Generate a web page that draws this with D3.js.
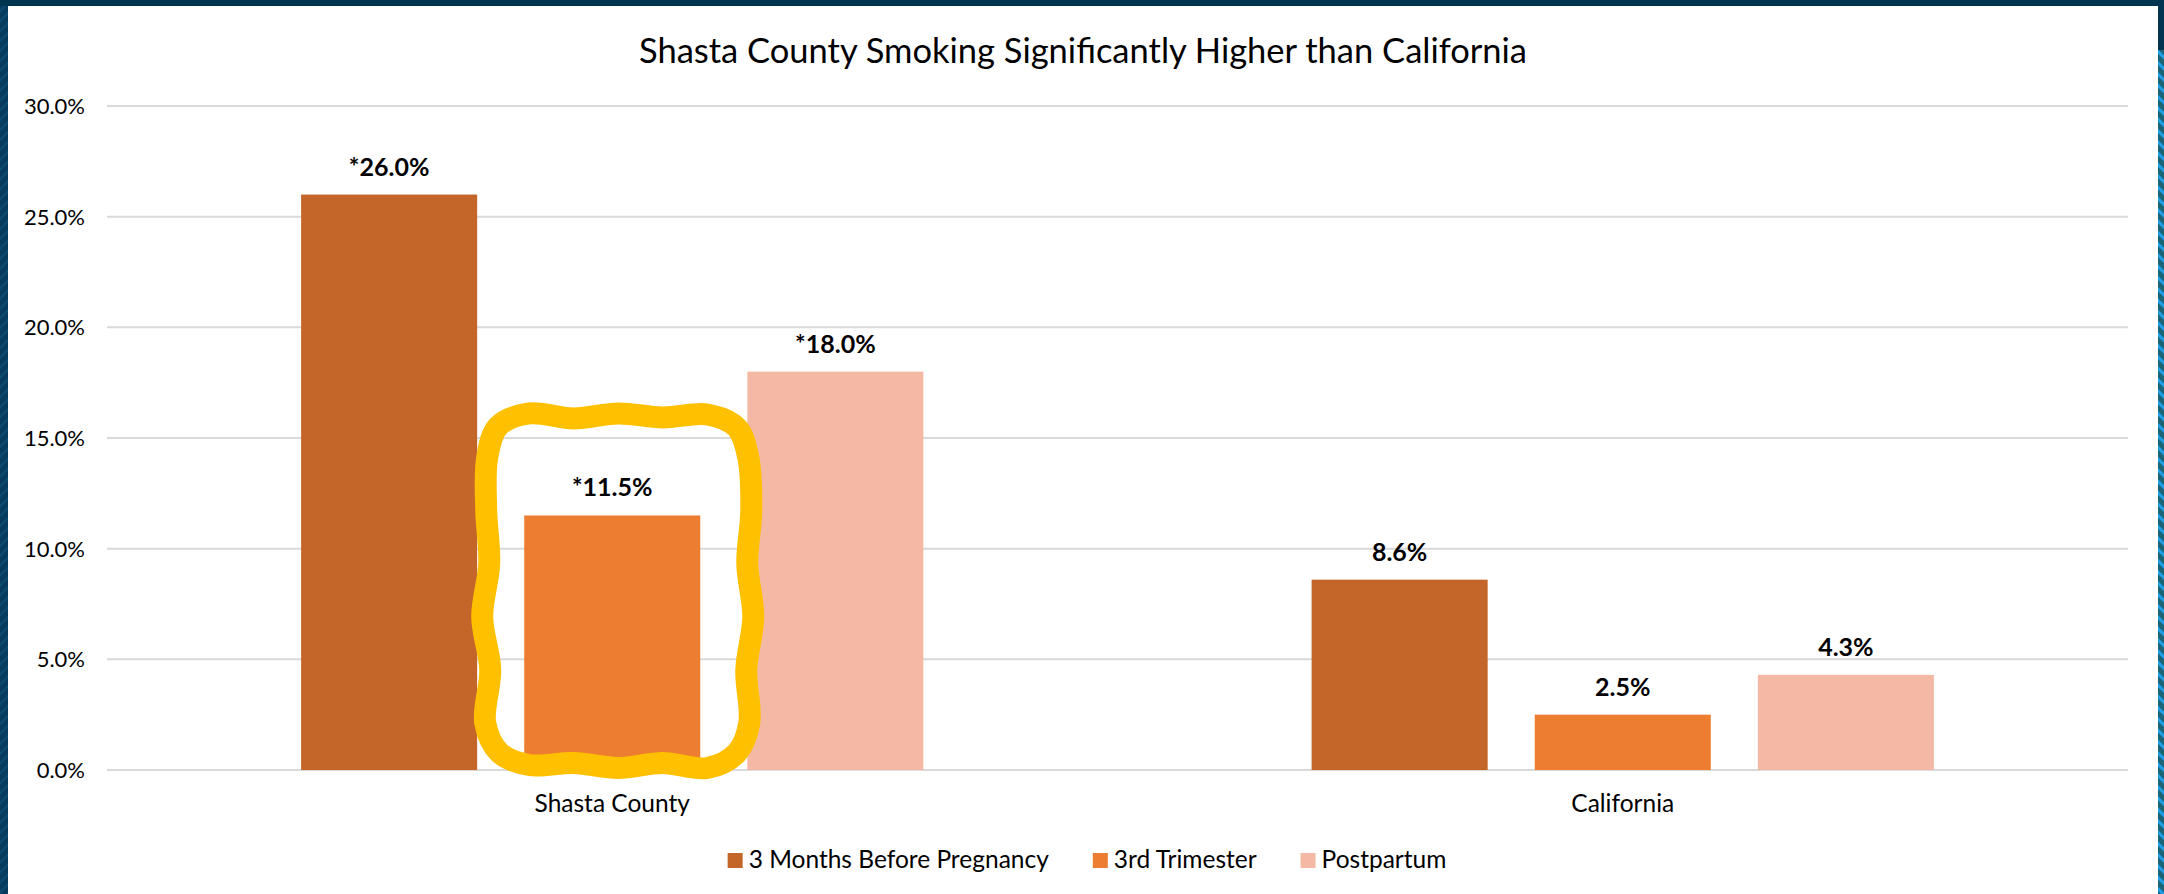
<!DOCTYPE html>
<html lang="en">
<head>
  <meta charset="UTF-8">
  <title>Shasta County Smoking</title>
  <script src="https://d3js.org/d3.v7.min.js"></script>
  <style>
    html, body { margin: 0; padding: 0; background: #fff; }
    svg { display: block; font-family: Lato, "Open Sans", sans-serif; }
    .grid line { stroke: #d9d9d9; stroke-width: 2px; }
    .tick-label { font-size: 22px; fill: #000; }
    .cat-label { font-size: 24.5px; fill: #000; }
    .value-label { font-size: 25px; font-weight: bold; fill: #000; }
    .legend-label { font-size: 24.5px; fill: #000; }
    .title { font-size: 34.5px; fill: #000; }
  </style>
</head>
<body>
  <div id="body"></div>
  <script>
    // Data
    const categories = ["Shasta County", "California"];
    const series = ["3 Months Before Pregnancy", "3rd Trimester", "Postpartum"];
    const shastaValues = [26.0, 11.5, 18.0];
    const californiaValues = [8.6, 2.5, 4.3];
    const significant = [true, false]; // "*" marks, per category
    const yTicks = [0, 5, 10, 15, 20, 25, 30];
    const colors = ["#c4652a", "#ed7d31", "#f4b9a4"];
    const titleText = "Shasta County Smoking Significantly Higher than California";

    const width = 2164, height = 894;
    const margin = { top: 106, right: 36, bottom: 124, left: 107 };

    const rows = categories.map((c, i) => ({
      category: c,
      star: significant[i],
      values: (i === 0 ? shastaValues : californiaValues).map((v, j) => ({ key: series[j], value: v }))
    }));

    const svg = d3.select("#body")
                  .append("svg")
                  .attr("width", width)
                  .attr("height", height);

    // frame with striped edges
    const defs = svg.append("defs");
    const p1 = defs.append("pattern").attr("id", "navyStripe")
        .attr("width", 7).attr("height", 7)
        .attr("patternUnits", "userSpaceOnUse")
        .attr("patternTransform", "rotate(45)");
    p1.append("rect").attr("width", 7).attr("height", 7).attr("fill", "#073c5f");
    p1.append("rect").attr("width", 2).attr("height", 7).attr("fill", "#0e4b72");
    const p2 = defs.append("pattern").attr("id", "blueStripe")
        .attr("width", 8).attr("height", 8)
        .attr("patternUnits", "userSpaceOnUse")
        .attr("patternTransform", "rotate(-45)");
    p2.append("rect").attr("width", 8).attr("height", 8).attr("fill", "#1c6577");
    p2.append("rect").attr("width", 3).attr("height", 8).attr("fill", "#1d9fe8");

    svg.append("rect").attr("width", width).attr("height", height).attr("fill", "#fff");
    svg.append("rect").attr("x", 0).attr("y", 0).attr("width", 8).attr("height", height).attr("fill", "url(#navyStripe)");
    svg.append("rect").attr("x", 0).attr("y", 0).attr("width", width).attr("height", 6).attr("fill", "#00344f");
    svg.append("rect").attr("x", 2158).attr("y", 0).attr("width", 6).attr("height", height).attr("fill", "url(#blueStripe)");
    svg.append("rect").attr("x", 2158).attr("y", 0).attr("width", 6).attr("height", 50).attr("fill", "#00344f");

    // scales
    const x0 = d3.scaleBand()
                 .domain(categories)
                 .range([margin.left, width - margin.right])
                 .padding(0);

    const x1 = d3.scaleBand()
                 .domain(series)
                 .range([0, x0.bandwidth()])
                 .paddingInner(0.211)
                 .paddingOuter(0.87);

    const y = d3.scaleLinear()
                .domain([0, 30])
                .range([height - margin.bottom, margin.top]);

    const color = d3.scaleOrdinal().domain(series).range(colors);

    // gridlines + y labels
    const grid = svg.append("g").attr("class", "grid");
    grid.selectAll("line")
        .data(yTicks)
        .enter()
        .append("line")
        .attr("x1", margin.left)
        .attr("x2", width - margin.right)
        .attr("y1", d => y(d))
        .attr("y2", d => y(d));

    svg.append("g")
       .selectAll("text")
       .data(yTicks)
       .enter()
       .append("text")
       .attr("class", "tick-label")
       .attr("x", 85)
       .attr("y", d => y(d))
       .attr("dy", "0.36em")
       .attr("text-anchor", "end")
       .text(d => d3.format(".1f")(d) + "%");

    // bars
    const groups = svg.selectAll(".cat")
                      .data(rows)
                      .enter()
                      .append("g")
                      .attr("class", "cat")
                      .attr("transform", d => `translate(${x0(d.category)},0)`);

    groups.selectAll("rect")
          .data(d => d.values)
          .enter()
          .append("rect")
          .attr("x", d => x1(d.key))
          .attr("y", d => y(d.value))
          .attr("width", x1.bandwidth())
          .attr("height", d => y(0) - y(d.value))
          .attr("fill", d => color(d.key));

    groups.selectAll(".value-label")
          .data(d => d.values.map(v => ({ ...v, star: d.star })))
          .enter()
          .append("text")
          .attr("class", "value-label")
          .attr("x", d => x1(d.key) + x1.bandwidth() / 2)
          .attr("y", d => y(d.value) - 19)
          .attr("text-anchor", "middle")
          .text(d => (d.star ? "*" : "") + d3.format(".1f")(d.value) + "%");

    // category labels
    svg.append("g")
       .selectAll("text")
       .data(categories)
       .enter()
       .append("text")
       .attr("class", "cat-label")
       .attr("x", d => x0(d) + x0.bandwidth() / 2)
       .attr("y", 812)
       .attr("text-anchor", "middle")
       .text(d => d);

    // yellow wavy highlight round Shasta 3rd Trimester bar
    const hx = x0(categories[0]) + x1(series[1]);
    const box = {
      l: hx - 37,
      r: hx + x1.bandwidth() + 49,
      t: y(shastaValues[1]) - 100,
      b: y(0) - 5
    };
    const rad = 42;
    // hand-picked wobble (px, outward) for each perimeter point
    const wobble = [2, -3, 2, -2, 1, 0, -1, 2, -2, 4, -3, 0, 0, 3, -2, 3, -2, 0, 0, 2, -3, 5, -2, 1, 0];
    const pts = [];
    const addEdge = (ax, ay, bx, by, nx, ny, n) => {
      for (let k = 0; k < n; k++) {
        const t = k / n;
        const w = wobble[pts.length % wobble.length];
        pts.push([ax + (bx - ax) * t + nx * w, ay + (by - ay) * t + ny * w]);
      }
    };
    const addCorner = (cx, cy, a0) => {
      for (let k = 0; k < 2; k++) {
        const a = a0 + k * Math.PI / 4;
        const w = wobble[pts.length % wobble.length];
        pts.push([cx + Math.cos(a) * (rad + w), cy + Math.sin(a) * (rad + w)]);
      }
    };
    addEdge(box.l + rad, box.t, box.r - rad, box.t, 0, -1, 4);
    addCorner(box.r - rad, box.t + rad, -Math.PI / 2);
    addEdge(box.r, box.t + rad, box.r, box.b - rad, 1, 0, 5);
    addCorner(box.r - rad, box.b - rad, 0);
    addEdge(box.r - rad, box.b, box.l + rad, box.b, 0, 1, 4);
    addCorner(box.l + rad, box.b - rad, Math.PI / 2);
    addEdge(box.l, box.b - rad, box.l, box.t + rad, -1, 0, 5);
    addCorner(box.l + rad, box.t + rad, Math.PI);

    svg.append("path")
       .attr("d", d3.line().curve(d3.curveCatmullRomClosed.alpha(0.5))(pts))
       .attr("fill", "none")
       .attr("stroke", "#ffc000")
       .attr("stroke-width", 22)
       .attr("stroke-linejoin", "round");

    // title
    svg.append("text")
       .attr("class", "title")
       .attr("x", (8 + 2158) / 2)
       .attr("y", 63)
       .attr("text-anchor", "middle")
       .text(titleText);

    // legend
    const legend = svg.append("g");
    const items = legend.selectAll("g")
                        .data(series)
                        .enter()
                        .append("g");
    items.append("rect")
         .attr("width", 15)
         .attr("height", 15)
         .attr("y", 853)
         .attr("fill", d => color(d));
    items.append("text")
         .attr("class", "legend-label")
         .attr("x", 21)
         .attr("y", 868)
         .text(d => d);
    let cursor = 0;
    items.each(function () {
      const w = 21 + d3.select(this).select("text").node().getComputedTextLength();
      d3.select(this).attr("transform", `translate(${cursor},0)`);
      cursor += w + 44;
    });
    cursor -= 44;
    legend.attr("transform", `translate(${1087 - cursor / 2},0)`);
  </script>
</body>
</html>
